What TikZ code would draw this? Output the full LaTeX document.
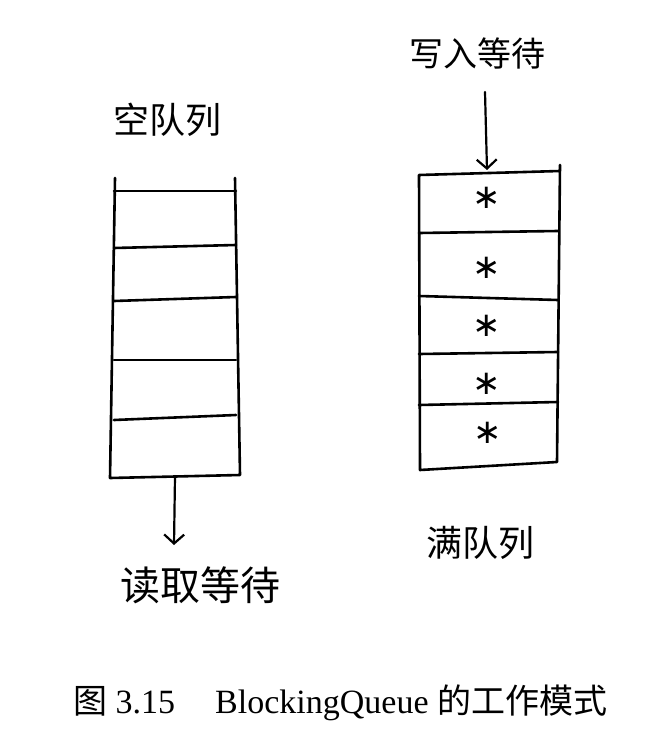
\documentclass[tikz,border=0pt]{standalone}
\usepackage{fontspec}
\setmainfont{Liberation Serif}
\newfontfamily\cjk{Noto Sans CJK SC}
\newfontfamily\symb{DejaVu Sans}
\usepackage{tikz}
\usetikzlibrary{arrows.meta, positioning}

\tikzset{
  hand/.style={line width=2.6pt, line cap=round, line join=round},
  cnlabel/.style={font=\cjk\fontsize{36}{36}\selectfont, inner sep=0pt},
  item/.style={font=\symb\fontsize{34}{34}\selectfont, inner sep=0pt},
  wait/.style={line width=2.2pt, line cap=round, -{Straight Barb[length=9pt, width=20pt]}},
}

\begin{document}
\begin{tikzpicture}[x=1pt, y=-1pt]
  \useasboundingbox (0,0) rectangle (656,746);

  % empty queue
  \node[cnlabel]                            (empty)  at (167, 120) {空队列};
  \draw[hand] (115,178) -- (110,478) -- (240,475) -- (235,178);
  \foreach \y/\d in {191/0, 248/-3, 301/-4, 360/0, 420/-5}
    \draw[hand] (114,\y) -- (236,\y+\d);
  \coordinate                               (emptyout) at (175, 476);
  \coordinate                               (readin)   at (174, 545);
  \node[cnlabel, font=\cjk\fontsize{40}{40}\selectfont] (read) at (200, 585) {读取等待};
  \draw[wait] (emptyout) -- (readin);

  % full queue
  \node[cnlabel, font=\cjk\fontsize{34}{34}\selectfont] (write) at (477, 53) {写入等待};
  \coordinate                               (writeout) at (485, 92);
  \coordinate                               (fullin)   at (487, 170);
  \draw[wait] (writeout) -- (fullin);
  \draw[hand] (560,165) -- (557,462) -- (420,470) -- (419,175) -- (560,171);
  \foreach \y/\d in {233/-2, 296/4, 354/-2, 405/-3}
    \draw[hand] (419,\y) -- (558,\y+\d);
  \node[item] (star1) at (487, 198) {∗};
  \node[item] (star2) at (487, 268) {∗};
  \node[item] (star3) at (487, 326) {∗};
  \node[item] (star4) at (487, 384) {∗};
  \node[item] (star5) at (488, 433) {∗};
  \node[cnlabel]                            (full)   at (480, 543) {满队列};

  % caption
  \node[anchor=west, inner sep=0pt, font=\fontsize{34}{34}\selectfont] (caption) at (73, 703)
    {{\cjk 图} 3.15\hspace{40pt}BlockingQueue {\cjk 的工作模式}};
\end{tikzpicture}
\end{document}
